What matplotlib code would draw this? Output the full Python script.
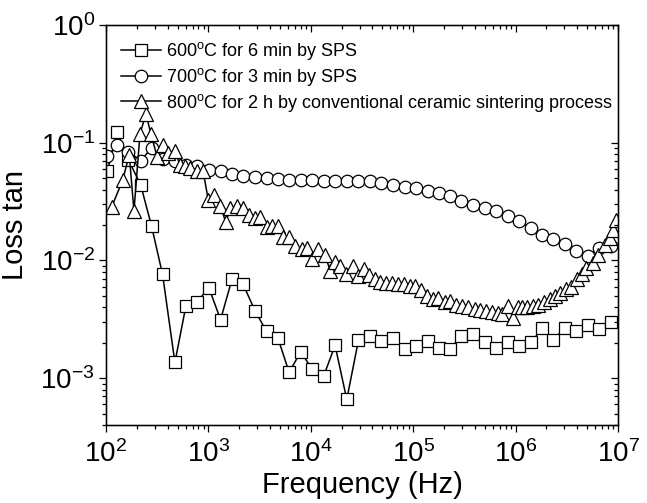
import numpy as np
import matplotlib
matplotlib.use("Agg")
from matplotlib import pyplot as plt
from matplotlib.ticker import LogLocator, FixedLocator, NullFormatter

plt.rcParams['font.family'] = ['Liberation Sans', 'DejaVu Sans']
plt.rcParams['mathtext.fontset'] = 'custom'
plt.rcParams['mathtext.rm'] = 'Liberation Sans'
plt.rcParams['mathtext.it'] = 'Liberation Sans:italic'
plt.rcParams['mathtext.bf'] = 'Liberation Sans:bold'

# frequency grid shared by the two SPS samples (Hz)
freq_sps = [103, 129, 165, 218, 279, 357, 471, 603, 778, 1011,
            1315, 1707, 2185, 2861, 3697, 4764, 6142, 7986, 10297, 13393,
            17265, 22453, 29208, 37640, 48960, 63530, 82600, 107450, 139450, 178570,
            227100, 295300, 383200, 498400, 648200, 841200, 1.077e6, 1.423e6, 1.822e6, 2.312e6,
            3.006e6, 3.910e6, 5.075e6, 6.497e6, 8.585e6]

tan_600 = [0.057, 0.123, 0.0718, 0.044, 0.0195, 0.0076, 0.00136, 0.0041, 0.00447, 0.00587,
           0.00314, 0.0070, 0.00626, 0.00372, 0.0025, 0.00221, 0.00112, 0.00168, 0.00119, 0.00105,
           0.0019, 0.00066, 0.0021, 0.00228, 0.00207, 0.00221, 0.00176, 0.00188, 0.00205, 0.00182,
           0.00176, 0.00228, 0.00236, 0.00203, 0.00182, 0.00203, 0.00188, 0.00203, 0.00265, 0.0021,
           0.00265, 0.00252, 0.00281, 0.0026, 0.0030]

tan_700 = [0.0766, 0.096, 0.084, 0.0704, 0.090, 0.0728, 0.0695, 0.0651, 0.063, 0.059,
           0.0571, 0.0546, 0.0525, 0.0512, 0.0502, 0.0492, 0.0486, 0.0483, 0.0482, 0.0476,
           0.0476, 0.0474, 0.047, 0.047, 0.0455, 0.044, 0.0421, 0.0413, 0.0387, 0.0375,
           0.0351, 0.0318, 0.0298, 0.028, 0.0262, 0.0237, 0.0215, 0.0189, 0.0166, 0.0151,
           0.0137, 0.012, 0.0109, 0.0128, 0.0132]

# conventional sintering sample, denser sweep
freq_conv = [113.7, 145.5, 168.8, 187.6, 214.7, 245.7, 274.8, 316.6, 357.5, 405.4,
             471.2, 527.2, 589.8, 659.9, 767.3, 889.7, 995.5, 1131, 1309, 1482,
             1639, 1884, 2157, 2484, 2842, 3217, 3697, 4193, 4797, 5369,
             6142, 6982, 8118, 9203, 10390, 11780, 13700, 15570, 17140, 19490,
             22300, 25860, 28940, 32900, 37060, 42110, 47860, 54750, 62690, 71080,
             80790, 92450, 105100, 120200, 136990, 156060, 176540, 202950, 227100, 263960,
             302000, 342400, 398100, 445500, 517900, 592600, 672100, 741800, 841200, 941300,
             1.046e6, 1.163e6, 1.303e6, 1.475e6, 1.650e6, 1.876e6, 2.147e6, 2.402e6, 2.730e6, 3.123e6,
             3.494e6, 3.963e6, 4.474e6, 4.895e6, 5.678e6, 6.353e6, 7.384e6, 8.260e6, 8.898e6, 9.603e6]

tan_800 = [0.0285, 0.048, 0.079, 0.0262, 0.1185, 0.176, 0.1185, 0.0757, 0.096, 0.0818,
           0.0844, 0.0651, 0.063, 0.061, 0.0571, 0.0571, 0.0329, 0.0362, 0.0289, 0.0211,
           0.028, 0.0289, 0.028, 0.0245, 0.0231, 0.0236, 0.0192, 0.0195, 0.0195, 0.0157,
           0.0157, 0.0132, 0.0124, 0.0127, 0.0103, 0.0124, 0.0112, 0.0081, 0.0097, 0.0090,
           0.0076, 0.0090, 0.0074, 0.0084, 0.0075, 0.0070, 0.0065, 0.0064, 0.0064, 0.0063,
           0.0063, 0.0061, 0.0061, 0.0056, 0.0050, 0.0047, 0.0048, 0.0044, 0.0045, 0.0042,
           0.0041, 0.0040, 0.0039, 0.0038, 0.00372, 0.00365, 0.0036, 0.00348, 0.0041, 0.00327,
           0.0040, 0.0040, 0.0040, 0.0041, 0.0042, 0.0044, 0.0047, 0.0050, 0.0053, 0.0057,
           0.0060, 0.0069, 0.0076, 0.0087, 0.0095, 0.0112, 0.0134, 0.0156, 0.0183, 0.0222]

labels = ['600$^\\mathrm{o}$C for 6 min by SPS',
          '700$^\\mathrm{o}$C for 3 min by SPS',
          '800$^\\mathrm{o}$C for 2 h by conventional ceramic sintering process']

xlim = (1e2, 1e7)
ylim = (4e-4, 1.0)

fig = plt.figure(figsize=(6.47, 5.03), dpi=100)
ax = fig.add_axes([0.1638, 0.155, 0.7914, 0.7953])

style = dict(color='black', lw=1.1, mfc='white', mec='black', mew=0.9)
ax.plot(freq_sps, tan_600, marker='s', ms=8.5, label=labels[0], **style)
ax.plot(freq_sps, tan_700, marker='o', ms=9, label=labels[1], **style)
ax.plot(freq_conv, tan_800, marker='^', ms=10, label=labels[2], **style)

ax.set_xscale('log')
ax.set_yscale('log')
ax.set_xlim(*xlim)
ax.set_ylim(*ylim)

# minor ticks on y only below 0.1 (as in the original)
ymin_ticks = [k * 10.0 ** e for e in (-4, -3, -2) for k in range(2, 10)]
ax.xaxis.set_minor_locator(LogLocator(base=10, subs=np.arange(2, 10), numticks=20))
ax.yaxis.set_minor_locator(FixedLocator(ymin_ticks))
ax.xaxis.set_minor_formatter(NullFormatter())
ax.yaxis.set_minor_formatter(NullFormatter())

ax.tick_params(which='both', direction='out', top=False, right=False, width=0.9)
ax.tick_params(which='major', length=5, labelsize=20, pad=3)
ax.tick_params(which='minor', length=3)
ax.tick_params(axis='x', which='major', pad=6)

for s in ax.spines.values():
    s.set_linewidth(1.0)

# mirrored inward ticks on top and right
axt = ax.twiny()
axt.set_xscale('log')
axt.set_xlim(*xlim)
axt.xaxis.set_minor_locator(LogLocator(base=10, subs=np.arange(2, 10), numticks=20))
axt.tick_params(which='both', direction='in', labeltop=False, width=0.9)
axt.tick_params(which='major', length=5)
axt.tick_params(which='minor', length=3)

axr = ax.twinx()
axr.set_yscale('log')
axr.set_ylim(*ylim)
axr.yaxis.set_minor_locator(FixedLocator(ymin_ticks))
axr.yaxis.set_minor_formatter(NullFormatter())
axr.tick_params(which='both', direction='in', labelright=False, width=0.9)
axr.tick_params(which='major', length=5)
axr.tick_params(which='minor', length=3)

ax.set_xlabel('Frequency (Hz)', fontsize=21, labelpad=2)
ax.set_ylabel('Loss tan', fontsize=21, labelpad=8)

leg = ax.legend(loc='upper left', bbox_to_anchor=(0.0, 1.0), fontsize=13,
                frameon=False, handlelength=2.2, handletextpad=0.3,
                labelspacing=0.2, borderaxespad=0.45)

fig.savefig('out.png', dpi=100)
